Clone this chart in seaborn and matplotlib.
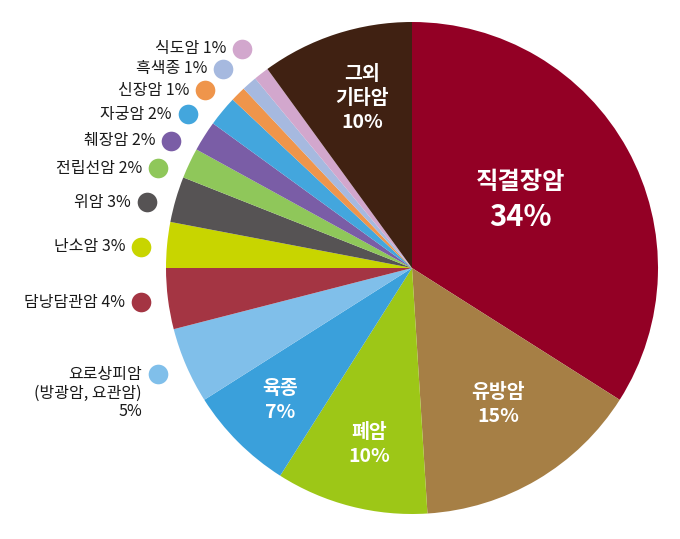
import matplotlib
matplotlib.use("Agg")
import matplotlib.pyplot as plt
import seaborn as sns

# ---- data ----
categories = ["직결장암", "유방암", "폐암", "육종", "요로상피암", "담낭담관암", "난소암",
              "위암", "전립선암", "췌장암", "자궁암", "신장암", "흑색종", "식도암", "그외 기타암"]
values = [34, 15, 10, 7, 5, 4, 3, 3, 2, 2, 2, 1, 1, 1, 10]
colors = ["#930025", "#A67F45", "#9DC717", "#3AA0DB", "#80BFEA", "#A43543", "#C8D500",
          "#565354", "#8FC75A", "#7A5DA6", "#43A6DD", "#EF954B", "#A6B9DF", "#D2A7CD", "#402112"]

outside_labels = [["식도암 1%"], ["흑색종 1%"], ["신장암 1%"], ["자궁암 2%"], ["췌장암 2%"],
                  ["전립선암 2%"], ["위암 3%"], ["난소암 3%"], ["담낭담관암 4%"],
                  ["요로상피암", "(방광암, 요관암)", "5%"]]
outside_colors = ["#D2A7CD", "#A6B9DF", "#EF954B", "#43A6DD", "#7A5DA6", "#8FC75A",
                  "#565354", "#C8D500", "#A43543", "#80BFEA"]

sns.set_theme(style="white")
plt.rcParams["font.family"] = ["Noto Sans CJK KR", "DejaVu Sans"]

W, H = 680, 539
fig = plt.figure(figsize=(W / 100, H / 100), dpi=100)
ax = fig.add_axes([0, 0, 1, 1])
pal = sns.color_palette(colors)

cx, cy, r = 412, H - 268, 246
ax.pie(values, colors=pal, startangle=90, counterclock=False, center=(cx, cy), radius=r,
       wedgeprops=dict(linewidth=0))
ax.set_xlim(0, W)
ax.set_ylim(0, H)
ax.set_aspect("equal")
ax.axis("off")

def T(x, y, s, size, **kw):
    ax.text(x, H - y, s, fontsize=size, ha="center", va="center", color="white",
            fontweight="bold", **kw)

T(521, 182, "직결장암", 17.5)
T(520, 217, "34%", 21)
T(362, 74, "그외", 14)
T(362, 98, "기타암", 14)
T(362, 122, "10%", 14)
T(498, 392, "유방암", 14)
T(498, 417, "15%", 14)
T(369, 432, "폐암", 14)
T(369, 457, "10%", 14)
T(280, 388, "육종", 14)
T(280, 413, "7%", 14)

dot_pos = [(242, 49), (223, 69), (205, 90), (188, 114), (171, 141), (158, 168),
           (147, 202), (141, 247), (141, 302), (158, 374)]
for (dx, dy), lines, c in zip(dot_pos, outside_labels, outside_colors):
    ax.scatter([dx], [H - dy], s=200, color=c, zorder=5, linewidths=0)
    for i, s in enumerate(lines):
        ax.text(dx - 16, H - (dy + i * 19), s, fontsize=11.5, ha="right", va="center",
                color="#1a1a1a")

fig.savefig("out.png", dpi=100)
